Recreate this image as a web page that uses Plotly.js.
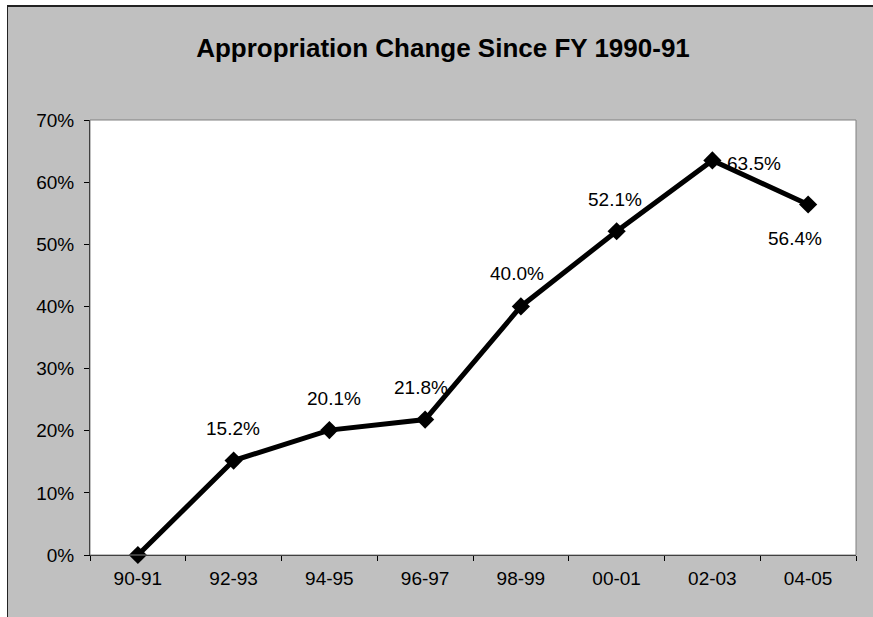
<!DOCTYPE html>
<html>
<head>
<meta charset="utf-8">
<script src="https://cdn.plot.ly/plotly-3.0.1.min.js"></script>
<style>
html,body{margin:0;padding:0;background:#fff;overflow:hidden;}
#frame{position:absolute;left:7px;top:5px;width:866px;height:612px;border-top:2px solid #222;border-left:1px solid #222;box-sizing:border-box;background:#c0c0c0;}
#chart{position:absolute;left:0;top:0;width:865px;height:610px;}
</style>
</head>
<body>
<div id="frame"><div id="chart"></div></div>
<script>
// ---- data ----
const categories = ["90-91", "92-93", "94-95", "96-97", "98-99", "00-01", "02-03", "04-05"];
const changePct = [0.0, 15.2, 20.1, 21.8, 40.0, 52.1, 63.5, 56.4];
const valueLabels = ["", "15.2%", "20.1%", "21.8%", "40.0%", "52.1%", "63.5%", "56.4%"];
const yTickVals = [0, 10, 20, 30, 40, 50, 60, 70];
const yTickText = ["0%", "10%", "20%", "30%", "40%", "50%", "60%", "70%"];

// ---- label placement (style only) ----
const labelShift = [[0,0], [-1,32], [5,32], [-4,32], [-4,33], [-2,32], [42,-3], [-13,-34]];

const FONT = "Arial, 'Liberation Sans', sans-serif";

const annotations = [];
for (let i = 0; i < categories.length; i++) {
  if (!valueLabels[i]) continue;
  annotations.push({
    x: categories[i], y: changePct[i], xref: 'x', yref: 'y',
    text: valueLabels[i], showarrow: false,
    xshift: labelShift[i][0], yshift: labelShift[i][1],
    xanchor: 'center', yanchor: 'middle',
    font: {family: FONT, size: 19, color: '#000'}
  });
}

const trace = {
  x: categories, y: changePct, type: 'scatter', mode: 'lines+markers',
  line: {color: '#000', width: 5},
  marker: {symbol: 'diamond', size: 14, color: '#000'},
  hoverinfo: 'skip', cliponaxis: false
};

// chart div origin is at page (8,7); plot area on page: left 90, right 856, top 119.5, bottom 555
const OX = 8, OY = 7, W = 865, H = 610;
const L = 90 - OX, R = 856 - OX, T = 119.5 - OY, B = 555 - OY;

const layout = {
  width: W, height: H,
  margin: {l: L, r: W - R, t: T, b: H - B, pad: 0},
  paper_bgcolor: '#c0c0c0',
  plot_bgcolor: '#ffffff',
  showlegend: false,
  title: {
    text: 'Appropriation Change Since FY 1990-91',
    font: {family: FONT, size: 26, color: '#000', weight: 'bold'},
    xref: 'container', yref: 'container',
    x: (443 - OX) / W, y: 1 - (47.5 - OY) / H, xanchor: 'center', yanchor: 'middle'
  },
  xaxis: {
    type: 'category', range: [-0.5, categories.length - 0.5],
    tickson: 'boundaries', ticks: 'outside', ticklen: 5, tickcolor: '#000', tickwidth: 1,
    showline: true, linecolor: '#000', linewidth: 1,
    showgrid: false, zeroline: false,
    ticklabelstandoff: 6,
    tickfont: {family: FONT, size: 19, color: '#000'},
    fixedrange: true
  },
  yaxis: {
    range: [0, 70], tickvals: yTickVals, ticktext: yTickText,
    ticks: 'outside', ticklen: 5, tickcolor: '#000', tickwidth: 1,
    showline: true, linecolor: '#000', linewidth: 1,
    showgrid: false, zeroline: false,
    ticklabelstandoff: 6,
    tickfont: {family: FONT, size: 19, color: '#000'},
    fixedrange: true
  },
  annotations: annotations,
  shapes: [
    {type: 'rect', xref: 'paper', yref: 'paper', x0: 0, x1: 1, y0: 0, y1: 1,
     line: {color: '#808080', width: 1}, fillcolor: 'rgba(0,0,0,0)', layer: 'above'}
  ]
};

Plotly.newPlot('chart', [trace], layout, {staticPlot: true, displayModeBar: false});
</script>
</body>
</html>
